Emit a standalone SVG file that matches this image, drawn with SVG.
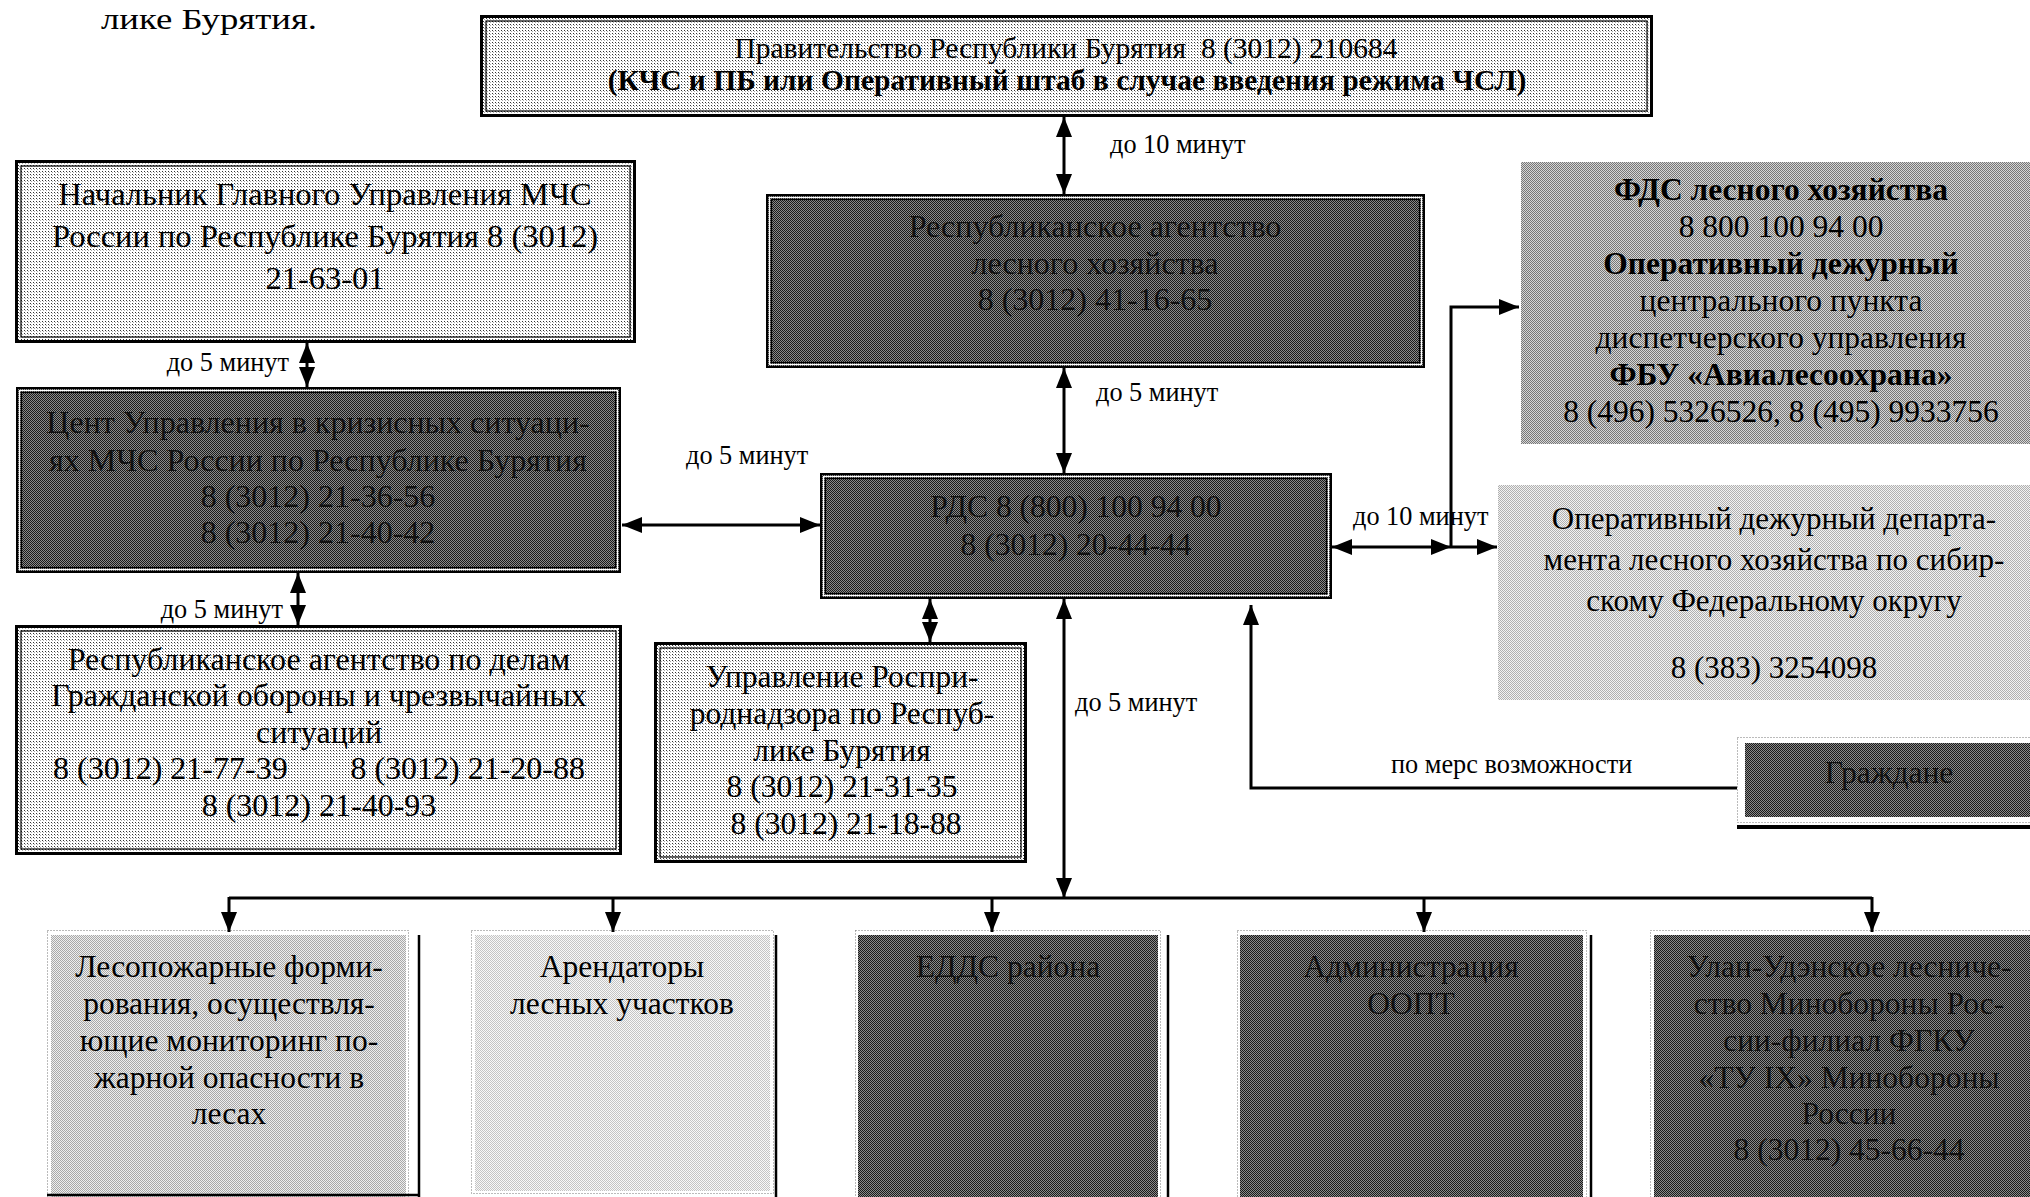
<svg xmlns="http://www.w3.org/2000/svg" width="2030" height="1197" viewBox="0 0 2030 1197">
<defs>
<pattern id="pLight" width="3" height="3" patternUnits="userSpaceOnUse"><rect width="3" height="3" fill="#fff"/><rect width="1" height="1" fill="#333"/><rect x="1" y="1" width="1" height="1" fill="#aaa"/></pattern>
<pattern id="pDark" width="2" height="2" patternUnits="userSpaceOnUse"><rect width="2" height="2" fill="#8a8a8a"/><rect width="1" height="1" fill="#1a1a1a"/><rect x="1" y="1" width="1" height="1" fill="#1a1a1a"/></pattern>
<pattern id="pMid" width="2" height="2" patternUnits="userSpaceOnUse"><rect width="2" height="2" fill="#d6d6d6"/><rect width="1" height="1" fill="#777"/><rect x="1" y="1" width="1" height="1" fill="#777"/></pattern>
<pattern id="pSoft" width="2" height="2" patternUnits="userSpaceOnUse"><rect width="2" height="2" fill="#f2f2f2"/><rect width="1" height="1" fill="#b0b0b0"/><rect x="1" y="1" width="1" height="1" fill="#b0b0b0"/></pattern>
<pattern id="pFire" width="2" height="2" patternUnits="userSpaceOnUse"><rect width="2" height="2" fill="#eeeeee"/><rect width="1" height="1" fill="#a8a8a8"/><rect x="1" y="1" width="1" height="1" fill="#a8a8a8"/></pattern>
<pattern id="pPale" width="2" height="2" patternUnits="userSpaceOnUse"><rect width="2" height="2" fill="#f8f8f8"/><rect width="1" height="1" fill="#c4c4c4"/><rect x="1" y="1" width="1" height="1" fill="#c4c4c4"/></pattern>
<marker id="ah" viewBox="0 0 20 16" markerWidth="20" markerHeight="16" refX="20" refY="8" orient="auto-start-reverse" markerUnits="userSpaceOnUse"><path d="M0,0 L20,8 L0,16 z" fill="#000"/></marker>
<style>
text{font-family:"Liberation Serif","Times New Roman",serif;fill:#000}
.t{font-size:31.5px;text-anchor:middle}
.tb{font-size:32.5px;text-anchor:middle}
.td{font-size:32px;text-anchor:middle}
.tg{font-size:31px;text-anchor:middle}
.ts{font-size:29.5px;text-anchor:middle}
.b{font-weight:bold}
.lbl{font-size:26.3px}
.end{text-anchor:end}
.dk{fill:#111}
.o3{fill:none;stroke:#000;stroke-width:3}
.i1{fill:none;stroke:#000;stroke-width:1.2}
.o2{fill:none;stroke:#000;stroke-width:2}
.w1{fill:none;stroke:#fff;stroke-width:1.2}
.dot{fill:none;stroke:#777;stroke-width:1;stroke-dasharray:1 2}
.sl{stroke:#000;stroke-width:2.5}
.c{fill:none;stroke:#000;stroke-width:3}
</style>
</defs>
<rect width="2030" height="1197" fill="#fff"/>

<text x="101" y="29" style="font-size:30px" textLength="216" lengthAdjust="spacingAndGlyphs">лике Бурятия.</text>

<g id="node-government">
<rect x="480" y="16" width="1173" height="100" fill="url(#pLight)"/>
<rect class="o3" x="481.5" y="16.5" width="1170" height="99"/>
<rect class="i1" x="486" y="21" width="1161" height="90"/>
<text class="ts" x="1066" y="58" xml:space="preserve">Правительство Республики Бурятия  8 (3012) 210684</text>
<text class="ts b" x="1067" y="90">(КЧС и ПБ или Оперативный штаб в случае введения режима ЧСЛ)</text>
</g>

<g id="node-mchs-head">
<rect x="15" y="160" width="621" height="183" fill="url(#pLight)"/>
<rect class="o3" x="16.5" y="161.5" width="618" height="180"/>
<rect class="i1" x="21" y="166" width="609" height="171"/>
<text class="tb" x="325" y="205">Начальник Главного Управления МЧС</text>
<text class="tb" x="325" y="247">России по Республике Бурятия 8 (3012)</text>
<text class="tb" x="325" y="289">21-63-01</text>
</g>

<g id="node-mchs-center">
<rect x="16" y="387" width="605" height="186" fill="url(#pDark)"/>
<rect class="o2" x="17" y="388" width="603" height="184"/>
<rect class="w1" x="19.5" y="390.5" width="598" height="179"/>
<rect class="i1" x="21.5" y="392.5" width="594" height="175"/>
<text class="td dk" x="318" y="433">Цент Управления в кризисных ситуаци-</text>
<text class="td dk" x="318" y="471">ях МЧС России по Республике Бурятия</text>
<text class="td dk" x="318" y="507">8 (3012) 21-36-56</text>
<text class="td dk" x="318" y="543">8 (3012) 21-40-42</text>
</g>

<g id="node-civil-defence">
<rect x="15" y="625" width="607" height="230" fill="url(#pLight)"/>
<rect class="o3" x="16.5" y="626.5" width="604" height="227"/>
<rect class="i1" x="21" y="631" width="595" height="218"/>
<text class="td" x="319" y="670">Республиканское агентство по делам</text>
<text class="td" x="319" y="706">Гражданской обороны и чрезвычайных</text>
<text class="td" x="319" y="743">ситуаций</text>
<text x="53" y="779" style="font-size:32px">8 (3012) 21-77-39</text>
<text x="585" y="779" style="font-size:32px;text-anchor:end">8 (3012) 21-20-88</text>
<text class="td" x="319" y="816">8 (3012) 21-40-93</text>
</g>

<g id="node-forest-agency">
<rect x="766" y="194" width="659" height="174" fill="url(#pDark)"/>
<rect class="o2" x="767" y="195" width="657" height="172"/>
<rect class="w1" x="769.5" y="197.5" width="652" height="167"/>
<rect class="i1" x="771.5" y="199.5" width="648" height="163"/>
<text class="td dk" x="1095" y="237">Республиканское агентство</text>
<text class="td dk" x="1095" y="274">лесного хозяйства</text>
<text class="td dk" x="1095" y="310">8 (3012) 41-16-65</text>
</g>

<g id="node-fds">
<rect x="1521" y="162" width="509" height="282" fill="url(#pMid)"/>
<text class="t b" x="1781" y="200">ФДС лесного хозяйства</text>
<text class="t" x="1781" y="237">8 800 100 94 00</text>
<text class="t b" x="1781" y="274">Оперативный дежурный</text>
<text class="t" x="1781" y="311">центрального пункта</text>
<text class="t" x="1781" y="348">диспетчерского управления</text>
<text class="t b" x="1781" y="385">ФБУ «Авиалесоохрана»</text>
<text class="t" x="1781" y="422">8 (496) 5326526, 8 (495) 9933756</text>
</g>

<g id="node-siberia">
<rect x="1498" y="485" width="532" height="215" fill="url(#pSoft)"/>
<text class="tg" x="1774" y="529">Оперативный дежурный департа-</text>
<text class="tg" x="1774" y="570">мента лесного хозяйства по сибир-</text>
<text class="tg" x="1774" y="611">скому Федеральному округу</text>
<text class="tg" x="1774" y="678">8 (383) 3254098</text>
</g>

<g id="node-rds">
<rect x="820" y="473" width="512" height="126" fill="url(#pDark)"/>
<rect class="o2" x="821" y="474" width="510" height="124"/>
<rect class="w1" x="823.5" y="476.5" width="505" height="119"/>
<rect class="i1" x="825.5" y="478.5" width="501" height="115"/>
<text class="t dk" x="1076" y="517">РДС 8 (800) 100 94 00</text>
<text class="t dk" x="1076" y="555">8 (3012) 20-44-44</text>
</g>

<g id="node-rosprirodnadzor">
<rect x="654" y="642" width="373" height="221" fill="url(#pLight)"/>
<rect class="o3" x="655.5" y="643.5" width="370" height="218"/>
<rect class="i1" x="660" y="648" width="361" height="209"/>
<text class="t" x="842" y="687">Управление Роспри-</text>
<text class="t" x="842" y="724">роднадзора по Респуб-</text>
<text class="t" x="842" y="761">лике Бурятия</text>
<text class="t" x="842" y="797">8 (3012) 21-31-35</text>
<text class="t" x="846" y="834">8 (3012) 21-18-88</text>
</g>

<g id="node-citizens">
<rect class="dot" x="1737.5" y="737.5" width="300" height="85"/>
<rect x="1745" y="743" width="285" height="74" fill="url(#pDark)"/>
<rect x="1737" y="825" width="293" height="4" fill="#000"/>
<text class="t dk" x="1889" y="783">Граждане</text>
</g>

<g id="node-fire-units">
<rect class="dot" x="47.5" y="930.5" width="361" height="270"/>
<rect x="51" y="935" width="355" height="262" fill="url(#pFire)"/>
<line class="sl" x1="419" y1="935" x2="419" y2="1197"/>
<line class="sl" x1="47" y1="1195" x2="420" y2="1195"/>
<text class="t" x="229" y="977">Лесопожарные форми-</text>
<text class="t" x="229" y="1014">рования, осуществля-</text>
<text class="t" x="229" y="1051">ющие мониторинг по-</text>
<text class="t" x="229" y="1088">жарной опасности в</text>
<text class="t" x="229" y="1124">лесах</text>
</g>

<g id="node-tenants">
<rect class="dot" x="471.5" y="930.5" width="302" height="263"/>
<rect x="475" y="935" width="295" height="256" fill="url(#pPale)"/>
<line class="sl" x1="776" y1="935" x2="776" y2="1197"/>
<text class="t" x="622" y="977">Арендаторы</text>
<text class="t" x="622" y="1014">лесных участков</text>
</g>

<g id="node-edds">
<rect class="dot" x="855.5" y="930.5" width="305" height="270"/>
<rect x="858" y="935" width="300" height="262" fill="url(#pDark)"/>
<line class="sl" x1="1168" y1="935" x2="1168" y2="1197"/>
<text class="t dk" x="1008" y="977">ЕДДС района</text>
</g>

<g id="node-oopt">
<rect class="dot" x="1237.5" y="930.5" width="349" height="270"/>
<rect x="1240" y="935" width="343" height="262" fill="url(#pDark)"/>
<line class="sl" x1="1591" y1="935" x2="1591" y2="1197"/>
<text class="t dk" x="1411" y="977">Администрация</text>
<text class="t dk" x="1411" y="1014">ООПТ</text>
</g>

<g id="node-military">
<rect class="dot" x="1650.5" y="930.5" width="390" height="270"/>
<rect x="1654" y="935" width="376" height="262" fill="url(#pDark)"/>
<text class="t dk" x="1849" y="977">Улан-Удэнское лесниче-</text>
<text class="t dk" x="1849" y="1014">ство Минобороны Рос-</text>
<text class="t dk" x="1849" y="1051">сии-филиал ФГКУ</text>
<text class="t dk" x="1849" y="1088">«ТУ IX» Минобороны</text>
<text class="t dk" x="1849" y="1124">России</text>
<text class="t dk" x="1849" y="1160">8 (3012) 45-66-44</text>
</g>

<g id="connectors">
<line class="c" x1="1064" y1="117" x2="1064" y2="194" marker-start="url(#ah)" marker-end="url(#ah)"/>
<line class="c" x1="307" y1="343" x2="307" y2="387" marker-start="url(#ah)" marker-end="url(#ah)"/>
<line class="c" x1="298" y1="573" x2="298" y2="625" marker-start="url(#ah)" marker-end="url(#ah)"/>
<line class="c" x1="622" y1="525" x2="820" y2="525" marker-start="url(#ah)" marker-end="url(#ah)"/>
<line class="c" x1="1064" y1="368" x2="1064" y2="473" marker-start="url(#ah)" marker-end="url(#ah)"/>
<line class="c" x1="930" y1="599" x2="930" y2="642" marker-start="url(#ah)" marker-end="url(#ah)"/>
<line class="c" x1="1064" y1="599" x2="1064" y2="898" marker-start="url(#ah)" marker-end="url(#ah)"/>
<line class="c" x1="229" y1="898" x2="1872" y2="898"/>
<line class="c" x1="229" y1="897" x2="229" y2="932" marker-end="url(#ah)"/>
<line class="c" x1="613" y1="897" x2="613" y2="932" marker-end="url(#ah)"/>
<line class="c" x1="992" y1="897" x2="992" y2="932" marker-end="url(#ah)"/>
<line class="c" x1="1424" y1="897" x2="1424" y2="932" marker-end="url(#ah)"/>
<line class="c" x1="1872" y1="897" x2="1872" y2="932" marker-end="url(#ah)"/>
<line class="c" x1="1332" y1="547" x2="1451" y2="547" marker-start="url(#ah)" marker-end="url(#ah)"/>
<line class="c" x1="1451" y1="547" x2="1497" y2="547" marker-end="url(#ah)"/>
<path class="c" d="M1451,548 V307 H1519" marker-end="url(#ah)"/>
<path class="c" d="M1737,788 H1251 V605" marker-end="url(#ah)"/>
<text class="lbl" x="1110" y="153">до 10 минут</text>
<text class="lbl end" x="289" y="371">до 5 минут</text>
<text class="lbl end" x="283" y="618">до 5 минут</text>
<text class="lbl" x="686" y="464">до 5 минут</text>
<text class="lbl" x="1096" y="401">до 5 минут</text>
<text class="lbl" x="1075" y="711">до 5 минут</text>
<text class="lbl" x="1353" y="525">до 10 минут</text>
<text class="lbl" x="1391" y="773">по мерс возможности</text>
</g>
</svg>
